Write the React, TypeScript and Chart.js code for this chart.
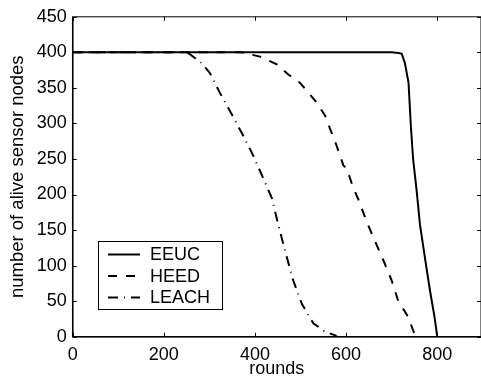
import React, { useEffect, useRef } from "react";
import { Chart, registerables } from "chart.js";
Chart.register(...registerables);

const eeucX = [0, 700, 715, 722, 729, 737, 742, 747, 755, 762, 773, 784, 794, 800];
const eeucY = [400, 400, 399, 398, 385, 357, 297, 250, 204, 158, 111, 65, 28, 0];

const heedX = [0, 370, 411, 448, 473, 499, 532, 554, 565, 579, 594, 601, 616, 627, 645, 663, 682, 700, 714, 736, 747, 753];
const heedY = [400, 400, 394, 383, 369, 357, 332, 311, 292, 269, 241, 237, 209, 193, 162, 135, 107, 79, 51, 28, 9, 0];

const leachX = [0, 250, 258, 283, 301, 323, 349, 374, 396, 418, 437, 451, 466, 484, 503, 528, 554, 576, 580];
const leachY = [400, 400, 397, 385, 371, 343, 313, 283, 255, 223, 195, 158, 121, 79, 46, 19, 7, 2, 0];

const seriesNames = ["EEUC", "HEED", "LEACH"];
const xTicks = [0, 200, 400, 600, 800];
const yTicks = [0, 50, 100, 150, 200, 250, 300, 350, 400, 450];
const xTitle = "rounds";
const yTitle = "number of alive sensor nodes";

const FAMILY = "'Liberation Sans', Arial, Helvetica, sans-serif";
const FONT = { family: FAMILY, size: 18 };
const YTITLE_FONT = { family: FAMILY, size: 18.5 };
const dashes = [[], [9, 9], [10, 6, 1, 6]];

function pts(xs: number[], ys: number[]) {
  return xs.map((x, i) => ({ x, y: ys[i] }));
}

const framePlugin = {
  id: "frameAndLegend",
  afterDraw(chart: any) {
    const { ctx, chartArea } = chart;
    const { left, right, top, bottom } = chartArea;
    const xs = chart.scales.x;
    const ys = chart.scales.y;
    ctx.save();
    ctx.strokeStyle = "#000";
    ctx.lineWidth = 1;
    ctx.setLineDash([]);
    ctx.strokeRect(left, top, right - left, bottom - top);
    ctx.lineWidth = 1.5;
    ctx.beginPath();
    ctx.moveTo(left, bottom);
    ctx.lineTo(right, bottom);
    ctx.moveTo(left, top);
    ctx.lineTo(left, bottom);
    ctx.stroke();
    ctx.lineWidth = 1;
    const tl = 4;
    ctx.beginPath();
    xTicks.forEach((v) => {
      const px = Math.round(xs.getPixelForValue(v)) + 0.5;
      ctx.moveTo(px, bottom);
      ctx.lineTo(px, bottom - tl);
      ctx.moveTo(px, top);
      ctx.lineTo(px, top + tl);
    });
    yTicks.forEach((v) => {
      const py = Math.round(ys.getPixelForValue(v)) + 0.5;
      ctx.moveTo(left, py);
      ctx.lineTo(left + tl, py);
      ctx.moveTo(right, py);
      ctx.lineTo(right - tl, py);
    });
    ctx.stroke();

    // legend box
    const bx = 98.5, by = 241.5, bw = 124, bh = 68;
    ctx.fillStyle = "#fff";
    ctx.fillRect(bx, by, bw, bh);
    ctx.strokeRect(bx, by, bw, bh);
    const rows = [254.5, 276, 297.5];
    ctx.font = `${FONT.size}px ${FONT.family}`;
    ctx.textBaseline = "middle";
    ctx.textAlign = "left";
    chart.data.datasets.forEach((ds: any, i: number) => {
      ctx.save();
      ctx.lineWidth = 2;
      ctx.setLineDash(ds.borderDash || []);
      ctx.beginPath();
      ctx.moveTo(108, rows[i]);
      ctx.lineTo(140, rows[i]);
      ctx.stroke();
      ctx.restore();
      ctx.fillStyle = "#000";
      ctx.fillText(ds.label, 150, rows[i] + 1);
    });
    ctx.restore();
  },
};

export default function App() {
  const ref = useRef<HTMLCanvasElement | null>(null);
  useEffect(() => {
    document.body.style.margin = "0";
    const canvas = ref.current!;
    const data = [pts(eeucX, eeucY), pts(heedX, heedY), pts(leachX, leachY)];
    const chart = new Chart(canvas, {
      type: "line",
      data: {
        datasets: data.map((d, i) => ({
          label: seriesNames[i],
          data: d,
          borderColor: "#000",
          backgroundColor: "#000",
          borderWidth: 2,
          borderDash: dashes[i],
          pointRadius: 0,
          tension: 0,
          fill: false,
        })),
      },
      options: {
        responsive: false,
        animation: false,
        devicePixelRatio: 1,
        layout: { padding: { top: 13, right: 0, left: 0, bottom: 0 } },
        plugins: { legend: { display: false }, tooltip: { enabled: false } },
        scales: {
          x: {
            type: "linear",
            min: 0,
            max: 896,
            afterBuildTicks: (s: any) => {
              s.ticks = xTicks.map((v) => ({ value: v }));
            },
            afterFit: (s: any) => {
              s.height = 39.3;
            },
            grid: { display: false, drawTicks: false },
            border: { display: false },
            ticks: { padding: 7.5, font: FONT, color: "#000", maxRotation: 0, autoSkip: false },
            title: { display: true, text: xTitle, font: FONT, color: "#000", padding: { top: 0, bottom: -4.3 } },
          },
          y: {
            type: "linear",
            min: 0,
            max: 450,
            afterBuildTicks: (s: any) => {
              s.ticks = yTicks.map((v) => ({ value: v }));
            },
            afterFit: (s: any) => {
              s.width = 72.7;
            },
            grid: { display: false, drawTicks: false },
            border: { display: false },
            ticks: { padding: 6, font: FONT, color: "#000", autoSkip: false },
            title: { display: true, text: yTitle, font: YTITLE_FONT, color: "#000", padding: { top: 7, bottom: 0 } },
          },
        },
      },
      plugins: [framePlugin],
    } as any);
    return () => chart.destroy();
  }, []);
  return (
    <div style={{ position: "absolute", left: 0, top: 0, width: 481, height: 376, background: "#fff" }}>
      <canvas ref={ref} width={481} height={376} style={{ display: "block" }} />
    </div>
  );
}
